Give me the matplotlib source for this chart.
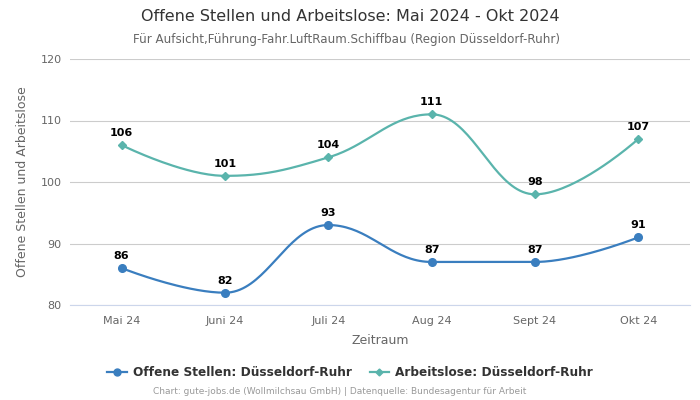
import numpy as np
import matplotlib
matplotlib.use("Agg")
import matplotlib.pyplot as plt
from matplotlib.lines import Line2D

categories = ["Mai 24", "Juni 24", "Juli 24", "Aug 24", "Sept 24", "Okt 24"]
offene = [86, 82, 93, 87, 87, 91]
arbeitslose = [106, 101, 104, 111, 98, 107]
name_offene = "Offene Stellen: Düsseldorf-Ruhr"
name_arbeitslose = "Arbeitslose: Düsseldorf-Ruhr"

plt.rcParams['font.family'] = ['DejaVu Sans']


def spline_path(xs, ys, n=40):
    """Highcharts-style spline through the given points (Bezier segments)."""
    xs = np.asarray(xs, float); ys = np.asarray(ys, float)
    m = len(xs)
    sm, den = 1.5, 2.5
    lc = [None] * m
    rc = [None] * m
    for i in range(m):
        px, py = xs[i], ys[i]
        if 0 < i < m - 1:
            lx, ly = xs[i - 1], ys[i - 1]
            nx, ny = xs[i + 1], ys[i + 1]
            lcx = (sm * px + lx) / den; lcy = (sm * py + ly) / den
            rcx = (sm * px + nx) / den; rcy = (sm * py + ny) / den
            if rcx != lcx:
                corr = ((rcy - lcy) * (rcx - px)) / (rcx - lcx) + py - rcy
                lcy += corr; rcy += corr
            if lcy > ly and lcy > py:
                lcy = max(ly, py); rcy = 2 * py - lcy
            elif lcy < ly and lcy < py:
                lcy = min(ly, py); rcy = 2 * py - lcy
            if rcy > ny and rcy > py:
                rcy = max(ny, py); lcy = 2 * py - rcy
            elif rcy < ny and rcy < py:
                rcy = min(ny, py); lcy = 2 * py - rcy
            lc[i] = (lcx, lcy); rc[i] = (rcx, rcy)
        else:
            lc[i] = (px, py); rc[i] = (px, py)
    X, Y = [], []
    t = np.linspace(0, 1, n)
    for i in range(m - 1):
        p0 = np.array([xs[i], ys[i]]); p1 = np.array(rc[i])
        p2 = np.array(lc[i + 1]); p3 = np.array([xs[i + 1], ys[i + 1]])
        pts = ((1 - t) ** 3)[:, None] * p0 + (3 * (1 - t) ** 2 * t)[:, None] * p1 \
            + (3 * (1 - t) * t ** 2)[:, None] * p2 + (t ** 3)[:, None] * p3
        X.extend(pts[:, 0]); Y.extend(pts[:, 1])
    return np.array(X), np.array(Y)


fig = plt.figure(figsize=(7, 4), dpi=100)
ax = fig.add_axes([0.1, 0.2375, 0.8857, 0.615])

x = np.arange(len(categories))
c_blue = "#3a7ebf"
c_teal = "#5ab4ac"

for ys, col, mk, ms in [(offene, c_blue, "o", 5.5), (arbeitslose, c_teal, "D", 4)]:
    sx, sy = spline_path(x, ys)
    ax.plot(sx, sy, color=col, lw=1.6, zorder=3)
    ax.plot(x, ys, linestyle="none", marker=mk, color=col, ms=ms, zorder=4)
    for xi, yi in zip(x, ys):
        ax.annotate(str(yi), (xi, yi), xytext=(0, 5), textcoords="offset points",
                    ha="center", va="bottom", fontsize=8, fontweight="bold", color="black")

ax.set_xlim(-0.5, len(categories) - 0.5)
ax.set_ylim(80, 120)
ax.set_yticks([80, 90, 100, 110, 120])
ax.set_xticks(x)
ax.set_xticklabels(categories)
ax.grid(axis="y", color="#cccccc", lw=0.8)
ax.set_axisbelow(True)
for s in ["top", "right", "left"]:
    ax.spines[s].set_visible(False)
ax.spines["bottom"].set_color("#ccd6eb")
ax.tick_params(axis="both", length=0, labelsize=8, colors="#666666", pad=6)
ax.tick_params(axis="x", pad=8)
ax.set_xlabel("Zeitraum", fontsize=9, color="#666666", labelpad=6)
ax.set_ylabel("Offene Stellen und Arbeitslose", fontsize=9, color="#666666", labelpad=8)

fig.text(0.5, 0.958, "Offene Stellen und Arbeitslose: Mai 2024 - Okt 2024",
         ha="center", va="center", fontsize=11.5, color="#333333")
fig.text(0.495, 0.902, "Für Aufsicht,Führung-Fahr.LuftRaum.Schiffbau (Region Düsseldorf-Ruhr)",
         ha="center", va="center", fontsize=8.6, color="#666666")

handles = [Line2D([], [], color=c_blue, marker="o", ms=5, lw=1.6),
           Line2D([], [], color=c_teal, marker="D", ms=3.5, lw=1.6)]
leg = fig.legend(handles, [name_offene, name_arbeitslose], loc="center",
                 bbox_to_anchor=(0.5, 0.068), ncol=2, frameon=False,
                 prop={"size": 8.7, "weight": "bold"}, handlelength=1.6,
                 columnspacing=1.5, handletextpad=0.5)
for t in leg.get_texts():
    t.set_color("#333333")

fig.text(0.485, 0.02, "Chart: gute-jobs.de (Wollmilchsau GmbH) | Datenquelle: Bundesagentur für Arbeit",
         ha="center", va="center", fontsize=6.5, color="#999999")

fig.savefig("out.png", dpi=100)
